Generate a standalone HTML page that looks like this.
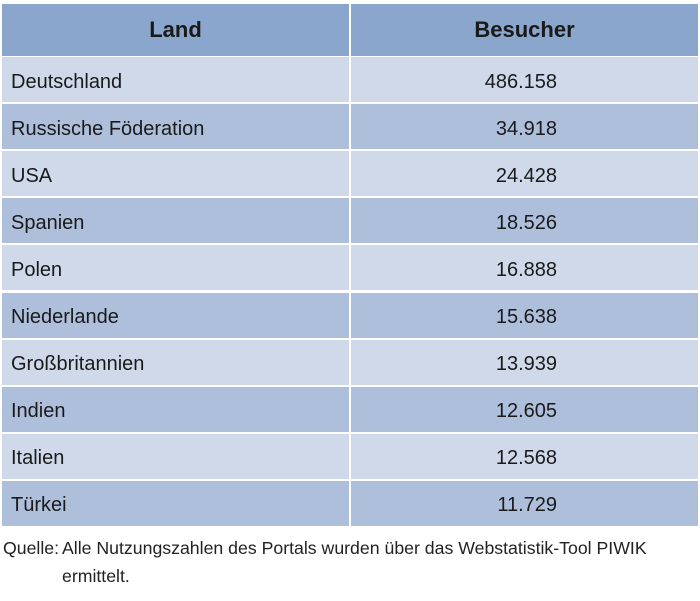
<!DOCTYPE html>
<html><head><meta charset="utf-8"><style>
body{margin:0;width:700px;height:601px;background:#fff;font-family:"Liberation Sans",sans-serif;color:#1a1a1a;position:relative;overflow:hidden}
.cell{position:absolute;box-sizing:border-box;font-size:20px;display:flex;align-items:center}
.hd{background:#8aa6cc;font-weight:bold;justify-content:center;font-size:22px}
.src{position:absolute;font-size:17.7px;color:#222}
</style></head><body>
<div id="tbl"></div>
<div class="src" style="left:3px;top:538px">Quelle:</div>
<div class="src" style="left:62px;top:538px">Alle Nutzungszahlen des Portals wurden über das Webstatistik-Tool PIWIK</div>
<div class="src" style="left:62px;top:566px">ermittelt.</div>
<script>
const countries=["Deutschland","Russische Föderation","USA","Spanien","Polen","Niederlande","Großbritannien","Indien","Italien","Türkei"];
const visitors=["486.158","34.918","24.428","18.526","16.888","15.638","13.939","12.605","12.568","11.729"];
const t=document.getElementById('tbl');
function mk(x,y,w,h,txt,cls,bg,name){const d=document.createElement('div');d.className='cell '+cls;d.style.left=x+'px';d.style.top=y+'px';d.style.width=w+'px';d.style.height=h+'px';if(bg)d.style.background=bg;d.textContent=txt;


t.appendChild(d);return d;}
mk(2,4,347,52,'Land','hd',null,'header-land');
mk(351,4,347,52,'Besucher','hd',null,'header-besucher');
const top0=57,rh=47.1;
countries.forEach((c,i)=>{const y=top0+i*rh;const bg=i%2?'#aebfdc':'#d0d9ea';
const a=mk(2,y,347,rh-2,c,'',bg,'country-cell');a.style.paddingLeft='9px';a.style.paddingTop='5px';
const b=mk(351,y,347,rh-2,visitors[i],'',bg,'visitor-cell');b.style.justifyContent='flex-end';b.style.paddingRight='141px';b.style.paddingTop='5px';});
</script>
</body></html>
